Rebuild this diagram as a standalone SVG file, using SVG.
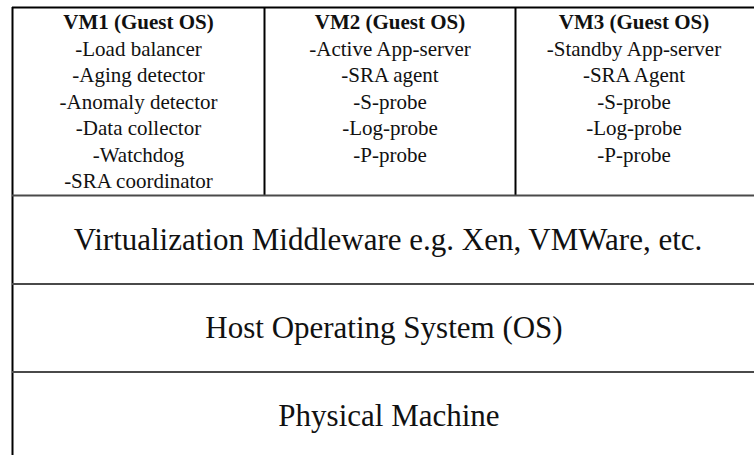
<svg xmlns="http://www.w3.org/2000/svg" width="754" height="455" viewBox="0 0 754 455">
<style>
.t{font-family:'Liberation Serif','DejaVu Serif',serif;fill:#111;text-anchor:middle}
.s{font-size:21px}
.b{font-weight:bold}
.L{font-size:31px}
.h{stroke:#4a4a4a;stroke-width:2;fill:none}
.v{stroke:#000;stroke-width:2;fill:none}
</style>
<rect width="754" height="455" fill="#fff"/>
<g id="connectors">
<line class="v" x1="12.5" y1="7" x2="12.5" y2="455"/>
<line class="v" x1="12" y1="7.5" x2="754" y2="7.5"/>
<line class="v" x1="264.5" y1="7" x2="264.5" y2="195"/>
<line class="v" x1="515.5" y1="7" x2="515.5" y2="195"/>
<line class="h" x1="12" y1="195.5" x2="754" y2="195.5"/>
<line class="h" x1="12" y1="284" x2="754" y2="284"/>
<line class="h" x1="12" y1="372" x2="754" y2="372"/>
</g>
<g id="vm1">
<text class="t s b" x="138.5" y="29">VM1 (Guest OS)</text>
<text class="t s" x="138.5" y="55.5">-Load balancer</text>
<text class="t s" x="138.5" y="82">-Aging detector</text>
<text class="t s" x="138.5" y="108.5">-Anomaly detector</text>
<text class="t s" x="138.5" y="135">-Data collector</text>
<text class="t s" x="138.5" y="161.5">-Watchdog</text>
<text class="t s" x="138.5" y="188">-SRA coordinator</text>
</g>
<g id="vm2">
<text class="t s b" x="390" y="29">VM2 (Guest OS)</text>
<text class="t s" x="390" y="55.5">-Active App-server</text>
<text class="t s" x="390" y="82">-SRA agent</text>
<text class="t s" x="390" y="108.5">-S-probe</text>
<text class="t s" x="390" y="135">-Log-probe</text>
<text class="t s" x="390" y="161.5">-P-probe</text>
</g>
<g id="vm3">
<text class="t s b" x="634" y="29">VM3 (Guest OS)</text>
<text class="t s" x="634" y="55.5">-Standby App-server</text>
<text class="t s" x="634" y="82">-SRA Agent</text>
<text class="t s" x="634" y="108.5">-S-probe</text>
<text class="t s" x="634" y="135">-Log-probe</text>
<text class="t s" x="634" y="161.5">-P-probe</text>
</g>
<g id="middleware">
<text class="t L" x="388" y="250">Virtualization Middleware e.g. Xen, VMWare, etc.</text>
</g>
<g id="hostos">
<text class="t L" x="384" y="338">Host Operating System (OS)</text>
</g>
<g id="physical">
<text class="t L" x="389" y="426">Physical Machine</text>
</g>
</svg>
